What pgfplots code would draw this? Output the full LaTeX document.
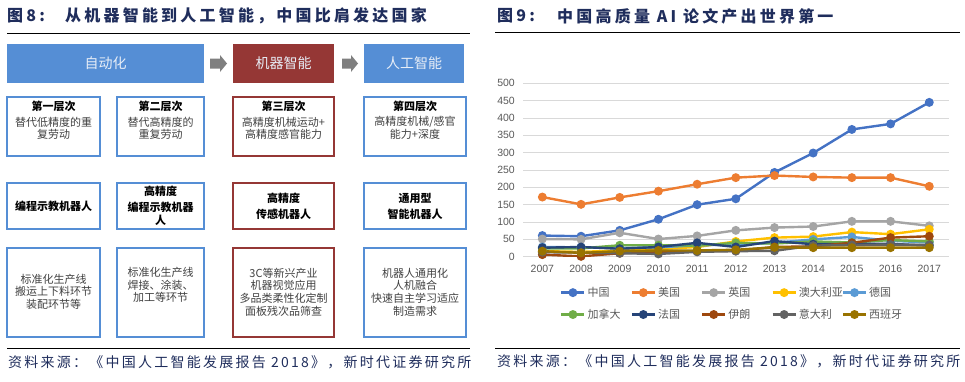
\documentclass[border=0pt]{standalone}
\usepackage{pgfplots}
\pgfplotsset{compat=1.18}
\usepackage{pgfplotstable}
\usepackage{fontspec}
\setmainfont{Noto Sans CJK SC}
\newfontfamily\ttlfont[LetterSpace=20]{Noto Sans CJK SC}
\newfontfamily\srcfont[LetterSpace=16]{Noto Sans CJK SC}
\newfontfamily\latfont{Liberation Sans}
\definecolor{navy}{HTML}{1F2D5C}
\definecolor{hblue}{HTML}{558ED5}
\definecolor{hred}{HTML}{953735}
\definecolor{htext}{HTML}{E8EEF7}
\definecolor{arrowgray}{HTML}{7F7F7F}
\definecolor{txtgray}{HTML}{404040}
\definecolor{gridgray}{HTML}{D9D9D9}
\definecolor{lblgray}{HTML}{595959}
\definecolor{cCN}{HTML}{4472C4}
\definecolor{cUS}{HTML}{ED7D31}
\definecolor{cUK}{HTML}{A5A5A5}
\definecolor{cAU}{HTML}{FFC000}
\definecolor{cDE}{HTML}{5B9BD5}
\definecolor{cCA}{HTML}{70AD47}
\definecolor{cFR}{HTML}{264478}
\definecolor{cIR}{HTML}{9E480E}
\definecolor{cIT}{HTML}{636363}
\definecolor{cES}{HTML}{997300}
\pgfplotstableread{
year cn us uk au de ca fr ir it es
2007 61 172 51 16 28 24 26 6 13 16
2008 59 151 50 14 27 24 28 1 12 11
2009 76 171 69 18 25 33 23 10 10 16
2010 108 189 51 22 27 33 28 14 8 18
2011 150 209 60 28 33 32 40 16 14 18
2012 167 228 76 44 35 40 28 17 16 20
2013 243 234 84 55 40 38 45 28 17 27
2014 299 230 87 58 50 44 36 30 32 26
2015 367 228 102 71 57 41 37 40 34 26
2016 383 228 102 65 46 48 37 55 35 26
2017 445 203 89 79 41 44 32 59 34 26
}\papers
\newcommand\fs[1]{\fontsize{#1}{#1}\selectfont}
\begin{document}
\begin{tikzpicture}
\begin{scope}[x=1pt,y=-1pt]
\path[use as bounding box] (0,0) rectangle (965,381);
% ---------- left panel ----------
\node[anchor=west, inner sep=0, text=navy, font=\ttlfont\bfseries\fs{16}] at (7,16) {图8:};
\node[anchor=west, inner sep=0, text=navy, font=\ttlfont\bfseries\fs{16}] at (65,16) {从机器智能到人工智能，中国比肩发达国家};
\draw[line width=1pt] (7,33) -- (470,33);
\draw[line width=1pt] (7,348) -- (470,348);
\node[anchor=west, inner sep=0, text=navy, font=\srcfont\fs{14}] at (8,362) {资料来源：《中国人工智能发展报告 2018》，新时代证券研究所};
% headers
\fill[hblue] (7,44) rectangle (204,83);
\fill[hred] (233,44) rectangle (334,83);
\fill[hblue] (364,44) rectangle (464,83);
\node[text=htext, font=\fs{14}] at (105.5,63.5) {自动化};
\node[text=htext, font=\fs{14}] at (283.5,63.5) {机器智能};
\node[text=htext, font=\fs{14}] at (414,63.5) {人工智能};
\fill[arrowgray] (210,58.5) -- (220,58.5) -- (220,55) -- (227,63.5) -- (220,72) -- (220,68.5) -- (210,68.5) -- cycle;
\fill[arrowgray] (342,58.5) -- (351,58.5) -- (351,55) -- (358,63.5) -- (351,72) -- (351,68.5) -- (342,68.5) -- cycle;
% boxes
\foreach \ya/\yb in {97/156,183/229,248/337}{
  \draw[hblue, line width=1.8pt] (7,\ya) rectangle (100,\yb);
  \draw[hblue, line width=1.8pt] (117,\ya) rectangle (204,\yb);
  \draw[hred, line width=1.5pt] (233,\ya) rectangle (334,\yb);
  \draw[hblue, line width=1.8pt] (364,\ya) rectangle (466,\yb);
}
\tikzset{bt/.style={font=\bfseries\fs{11}, text=black, inner sep=0},
         nt/.style={font=\fs{11}, text=txtgray, inner sep=0}}
% row 1
\node[bt] at (53.5,106.7) {第一层次};
\node[nt] at (53.5,122.3) {替代低精度的重};
\node[nt] at (53.5,134.3) {复劳动};
\node[bt] at (160.5,106.7) {第二层次};
\node[nt] at (160.5,122.3) {替代高精度的};
\node[nt] at (160.5,134.3) {重复劳动};
\node[bt] at (283.5,106.7) {第三层次};
\node[nt] at (283.5,122.3) {高精度机械运动+};
\node[nt] at (283.5,134.3) {高精度感官能力};
\node[bt] at (415,106.7) {第四层次};
\node[nt] at (415,122.3) {高精度机械/感官};
\node[nt] at (415,134.3) {能力+深度};
% row 2
\node[bt] at (53.5,206.7) {编程示教机器人};
\node[bt] at (160.5,191.7) {高精度};
\node[bt] at (160.5,207.3) {编程示教机器};
\node[bt] at (160.5,220) {人};
\node[bt] at (283.5,198.3) {高精度};
\node[bt] at (283.5,214) {传感机器人};
\node[bt] at (415,198.3) {通用型};
\node[bt] at (415,214) {智能机器人};
% row 3
\node[nt] at (53.5,279.3) {标准化生产线};
\node[nt] at (53.5,291.7) {搬运上下料环节};
\node[nt] at (53.5,304) {装配环节等};
\node[nt] at (160.5,272) {标准化生产线};
\node[nt] at (160.5,285) {焊接、涂装、};
\node[nt] at (160.5,297.5) {加工等环节};
\node[nt] at (283.5,273.3) {3C等新兴产业};
\node[nt] at (283.5,285.7) {机器视觉应用};
\node[nt] at (283.5,298.3) {多品类柔性化定制};
\node[nt] at (283.5,311) {面板残次品筛查};
\node[nt] at (415,273.3) {机器人通用化};
\node[nt] at (415,285.7) {人机融合};
\node[nt] at (415,298.3) {快速自主学习适应};
\node[nt] at (415,311) {制造需求};
% ---------- right panel ----------
\node[anchor=west, inner sep=0, text=navy, font=\ttlfont\bfseries\fs{16}] at (497,16) {图9:};
\node[anchor=west, inner sep=0, text=navy, font=\ttlfont\bfseries\fs{16}] at (557,16) {中国高质量 AI 论文产出世界第一};
\draw[line width=1pt] (495,32) -- (960,32);
\draw[line width=1pt] (495,348) -- (960,348);
\node[anchor=west, inner sep=0, text=navy, font=\srcfont\fs{14}] at (497,361) {资料来源：《中国人工智能发展报告 2018》，新时代证券研究所};
\end{scope}
\begin{axis}[
  at={(523pt,-256.7pt)}, anchor=south west,
  scale only axis, width=425.6pt, height=173.4pt,
  xmin=2006.5, xmax=2017.5, ymin=0, ymax=500,
  xtick={2007,2008,...,2017}, ytick={0,50,...,500},
  axis line style={draw=none},
  major tick length=0pt,
  ymajorgrids, grid style={gridgray, line width=0.8pt},
  /pgf/number format/assume math mode=true,
  /pgf/number format/1000 sep={},
  ticklabel style={font=\latfont\fs{10.5}, text=lblgray},
  yticklabel style={inner xsep=0pt, xshift=-8pt},
  xticklabel style={inner ysep=0pt, yshift=-8pt},
  every axis plot/.append style={line width=2.4pt, mark=*, mark size=3.2pt, mark options={solid}},
  legend columns=5,
  legend style={at={(axis description cs:0.087,-0.175)}, anchor=north west, draw=none, fill=none,
    inner sep=0pt, nodes={inner sep=0pt}, font=\fs{11}, text=lblgray, row sep=11pt,
    /tikz/every odd column/.append style={column sep=2pt},
    /tikz/every even column/.append style={column sep=3pt}},
  legend image code/.code={\draw[mark repeat=2,mark phase=2,#1] plot coordinates {(0pt,0pt) (11.5pt,0pt) (23pt,0pt)};},
]
\addplot[cCN] table[x=year,y=cn]{\papers}; \addlegendentry{\makebox[40pt][l]{中国}}
\addplot[cUS] table[x=year,y=us]{\papers}; \addlegendentry{\makebox[40pt][l]{美国}}
\addplot[cUK] table[x=year,y=uk]{\papers}; \addlegendentry{\makebox[40pt][l]{英国}}
\addplot[cAU] table[x=year,y=au]{\papers}; \addlegendentry{\makebox[40pt][l]{澳大利亚}}
\addplot[cDE] table[x=year,y=de]{\papers}; \addlegendentry{\makebox[40pt][l]{德国}}
\addplot[cCA] table[x=year,y=ca]{\papers}; \addlegendentry{\makebox[40pt][l]{加拿大}}
\addplot[cFR] table[x=year,y=fr]{\papers}; \addlegendentry{\makebox[40pt][l]{法国}}
\addplot[cIR] table[x=year,y=ir]{\papers}; \addlegendentry{\makebox[40pt][l]{伊朗}}
\addplot[cIT] table[x=year,y=it]{\papers}; \addlegendentry{\makebox[40pt][l]{意大利}}
\addplot[cES] table[x=year,y=es]{\papers}; \addlegendentry{\makebox[40pt][l]{西班牙}}
\end{axis}
\end{tikzpicture}
\end{document}
